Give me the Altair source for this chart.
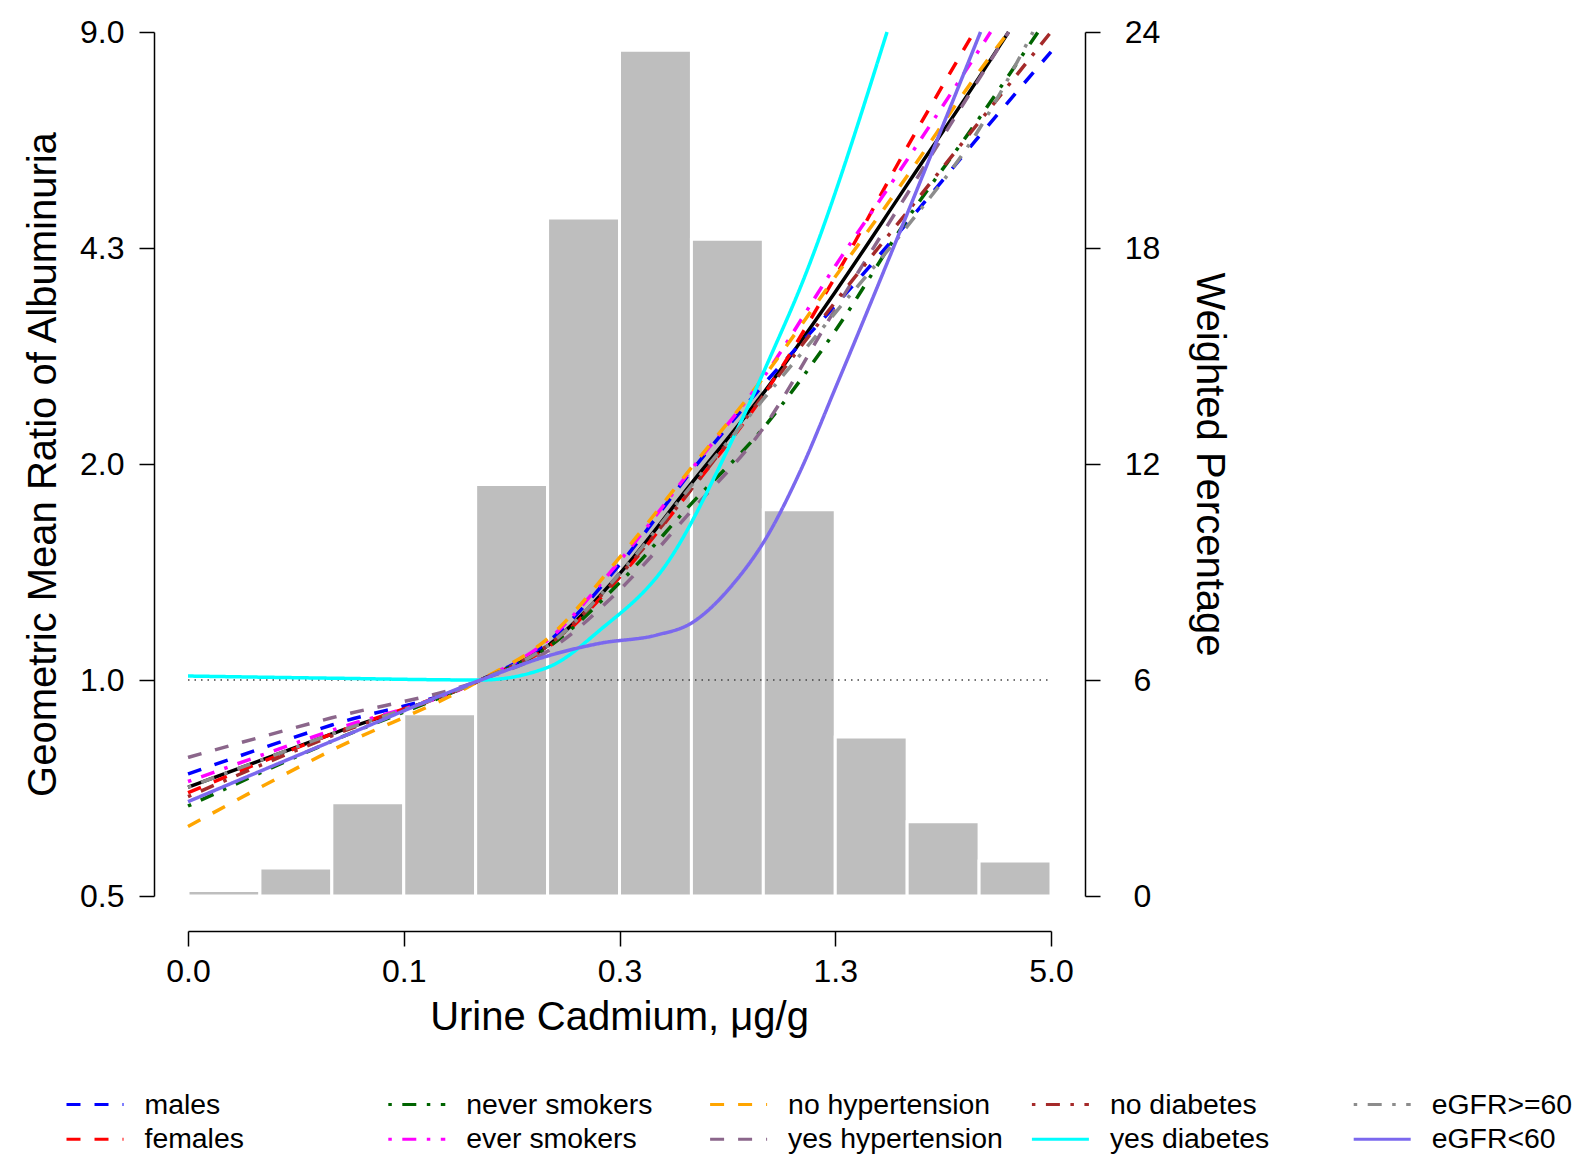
import altair as alt
import pandas as pd

# ---- histogram (weighted percentage per cadmium bin) ----
bin_pct = [0.15, 0.78, 2.59, 5.06, 11.43, 18.83, 23.49, 18.24, 10.73, 4.42, 2.06, 0.97]

# ---- axes ----
x_tick_pos = [0, 3, 6, 9, 12]
x_tick_labels = ["0.0", "0.1", "0.3", "1.3", "5.0"]
y_tick_pos = [0, 6, 12, 18, 24]
ratio_labels = ["0.5", "1.0", "2.0", "4.3", "9.0"]
pct_labels = ["0", "6", "12", "18", "24"]

# ---- curves (x in axis units 0-12, y in axis units 0-24) ----
common_x = [0, 2, 4.07, 5, 6, 7, 8, 9, 10, 11]

overall_x = common_x + [11.41]
overall_y = [3.02, 4.5, 6.0, 6.95, 8.95, 11.46, 13.97, 16.78, 19.76, 22.74, 24.0]

males_x = common_x + [12]
males_y = [3.39, 4.75, 6.0, 7.05, 9.2, 11.8, 14.2, 16.4, 18.7, 21.1, 23.45]

females_x = common_x[:9] + [10.93]
females_y = [2.87, 4.5, 6.0, 6.9, 8.85, 11.3, 13.9, 17.2, 20.8, 24.0]

never_x = common_x + [11.82]
never_y = [2.5, 4.3, 6.0, 6.9, 8.7, 10.9, 13.0, 15.7, 18.8, 21.6, 24.0]

ever_x = common_x + [11.16]
ever_y = [3.18, 4.6, 6.0, 7.1, 9.3, 11.85, 14.4, 17.5, 20.45, 23.5, 24.0]

nohyp_x = common_x + [11.41]
nohyp_y = [1.93, 4.05, 6.0, 7.15, 9.4, 11.9, 14.4, 17.2, 20.0, 22.9, 24.0]

yeshyp_x = common_x + [11.41]
yeshyp_y = [3.85, 4.95, 6.0, 6.8, 8.5, 10.7, 13.0, 16.3, 19.5, 22.7, 24.0]

nodia_x = common_x + [12]
nodia_y = [2.76, 4.45, 6.0, 6.95, 8.9, 11.3, 13.9, 16.5, 19.0, 21.5, 24.0]

yesdia_x = [0, 2, 4.07, 5, 5.73, 6.66, 7.59, 8.14, 8.52, 9.72]
yesdia_y = [6.11, 6.05, 6.0, 6.35, 7.39, 9.24, 12.76, 15.17, 16.93, 24.0]

egfr_hi_x = common_x + [11.75]
egfr_hi_y = [3.02, 4.5, 6.0, 6.95, 8.95, 11.4, 13.8, 16.2, 18.6, 21.3, 24.0]

egfr_lo_x = [0, 2, 4.07, 5.04, 5.73, 6.52, 6.99, 7.59, 8.05, 8.52, 9.0, 11.02]
egfr_lo_y = [2.62, 4.3, 6.0, 6.69, 7.02, 7.25, 7.57, 8.69, 9.98, 11.83, 14.1, 24.0]

series_names = ["males", "females", "never smokers", "ever smokers",
                "no hypertension", "yes hypertension", "no diabetes",
                "yes diabetes", "eGFR>=60", "eGFR<60"]
series_x = [males_x, females_x, never_x, ever_x, nohyp_x, yeshyp_x,
            nodia_x, yesdia_x, egfr_hi_x, egfr_lo_x]
series_y = [males_y, females_y, never_y, ever_y, nohyp_y, yeshyp_y,
            nodia_y, yesdia_y, egfr_hi_y, egfr_lo_y]
series_colors = ["#0000FF", "#FF0000", "#006400", "#FF00FF", "#FFA500",
                 "#8B668B", "#A52A2A", "#00FFFF", "#8C8C8C", "#7B68EE"]
DASHED = [14, 14]
DOTDASH = [3.5, 10.5, 14, 10.5]
SOLID = [1, 0]
series_dash = [DASHED, DASHED, DOTDASH, DOTDASH, DASHED, DASHED,
               DOTDASH, SOLID, DOTDASH, SOLID]

# ---- data frames ----
bars_df = pd.DataFrame({
    "x0": list(range(len(bin_pct))),
    "x1": [i + 1 for i in range(len(bin_pct))],
    "pct": bin_pct,
    "base": [0] * len(bin_pct),
})

rows = []
for name, xs_, ys_ in zip(series_names, series_x, series_y):
    for xv, yv in zip(xs_, ys_):
        rows.append({"series": name, "x": xv, "y": yv})
curves_df = pd.DataFrame(rows)
overall_df = pd.DataFrame({"x": overall_x, "y": overall_y})

# legend laid out column-major (pairs), Vega fills row-major
n_cols = 5
legend_order = [series_names[2 * c + r] for r in range(2) for c in range(n_cols)]
legend_colors = [series_colors[series_names.index(n)] for n in legend_order]
legend_dash = [series_dash[series_names.index(n)] for n in legend_order]

FONT = "Liberation Sans"
xs = alt.Scale(domain=[x_tick_pos[0], x_tick_pos[-1]], nice=False, zero=False)
ys = alt.Scale(domain=[y_tick_pos[0], y_tick_pos[-1]], nice=False, zero=False)

def lab_expr(labels, step):
    arr = "[" + ",".join("'" + l + "'" for l in labels) + "]"
    return f"{arr}[round(datum.value/{step})]"

x_axis = alt.Axis(values=x_tick_pos, labelExpr=lab_expr(x_tick_labels, 3),
                  offset=35, tickSize=15, labelPadding=35, labelBaseline="alphabetic",
                  title="Urine Cadmium, μg/g", titleX=431, titleY=98,
                  titleAlign="center", titleBaseline="alphabetic")
left_axis = alt.Axis(orient="left", values=y_tick_pos, labelExpr=lab_expr(ratio_labels, 6),
                     offset=34, tickSize=15, labelPadding=15, labelAlign="right",
                     labelBaseline="middle",
                     title="Geometric Mean Ratio of Albuminuria", titleAngle=270,
                     titleX=-99, titleY=432, titleAlign="center", titleBaseline="alphabetic")
right_axis = alt.Axis(orient="right", values=y_tick_pos, labelExpr=lab_expr(pct_labels, 6),
                      offset=34, tickSize=15, labelPadding=42, labelAlign="center",
                      labelBaseline="middle",
                      title="Weighted Percentage", titleAngle=90,
                      titleX=111, titleY=432, titleAlign="center", titleBaseline="alphabetic")

bars = alt.Chart(bars_df).mark_rect(color="#BEBEBE", stroke="white", strokeWidth=3).encode(
    x=alt.X("x0:Q", scale=xs, axis=x_axis),
    x2="x1:Q",
    y=alt.Y("pct:Q", scale=ys, axis=right_axis),
    y2="base:Q",
)

ref_df = pd.DataFrame({"x": [x_tick_pos[0]], "x2": [x_tick_pos[-1]],
                       "y": [y_tick_pos[ratio_labels.index("1.0")]]})
refline = alt.Chart(ref_df).mark_rule(color="#444444", strokeWidth=1.5, strokeDash=[1.5, 5]).encode(
    x=alt.X("x:Q", scale=xs, axis=x_axis),
    x2="x2:Q",
    y=alt.Y("y:Q", scale=ys, axis=left_axis),
)

overall = alt.Chart(overall_df).mark_line(color="black", strokeWidth=3.5, interpolate="monotone").encode(
    x=alt.X("x:Q", scale=xs, axis=x_axis),
    y=alt.Y("y:Q", scale=ys, axis=left_axis),
    order="x:Q",
)

leg = alt.Legend(title=None, orient="none", legendX=-123, legendY=1055,
                 columns=n_cols, direction="horizontal", gridAlign="all",
                 columnPadding=26.8, rowPadding=0, clipHeight=34.5,
                 symbolType="stroke", symbolSize=3249, symbolStrokeWidth=3,
                 labelOffset=19.5, labelFontSize=28.4, labelFont=FONT,
                 labelColor="black", labelLimit=0, padding=0, offset=0)

colored = alt.Chart(curves_df).mark_line(strokeWidth=3.5, interpolate="monotone").encode(
    x=alt.X("x:Q", scale=xs, axis=x_axis),
    y=alt.Y("y:Q", scale=ys, axis=left_axis),
    color=alt.Color("series:N", scale=alt.Scale(domain=legend_order, range=legend_colors), legend=leg),
    strokeDash=alt.StrokeDash("series:N", scale=alt.Scale(domain=legend_order, range=legend_dash), legend=leg),
    order="x:Q",
)

curves = alt.layer(refline, overall, colored)

chart = alt.layer(bars, curves).resolve_scale(y="independent").properties(
    width=863, height=864,
    autosize=alt.AutoSizeParams(type="none"),
    padding={"left": 180, "top": 24, "right": 524, "bottom": 259},
).configure_view(stroke=None).configure_axis(
    grid=False, domainColor="black", tickColor="black", labelColor="black",
    titleColor="black", labelFont=FONT, titleFont=FONT, labelFontSize=32,
    titleFontSize=40, titleFontWeight="normal", domainWidth=1.5, tickWidth=1.5,
    labelFlush=False, labelOverlap=False,
)

chart.save("out.html", embed_options={"renderer": "svg", "actions": False})
